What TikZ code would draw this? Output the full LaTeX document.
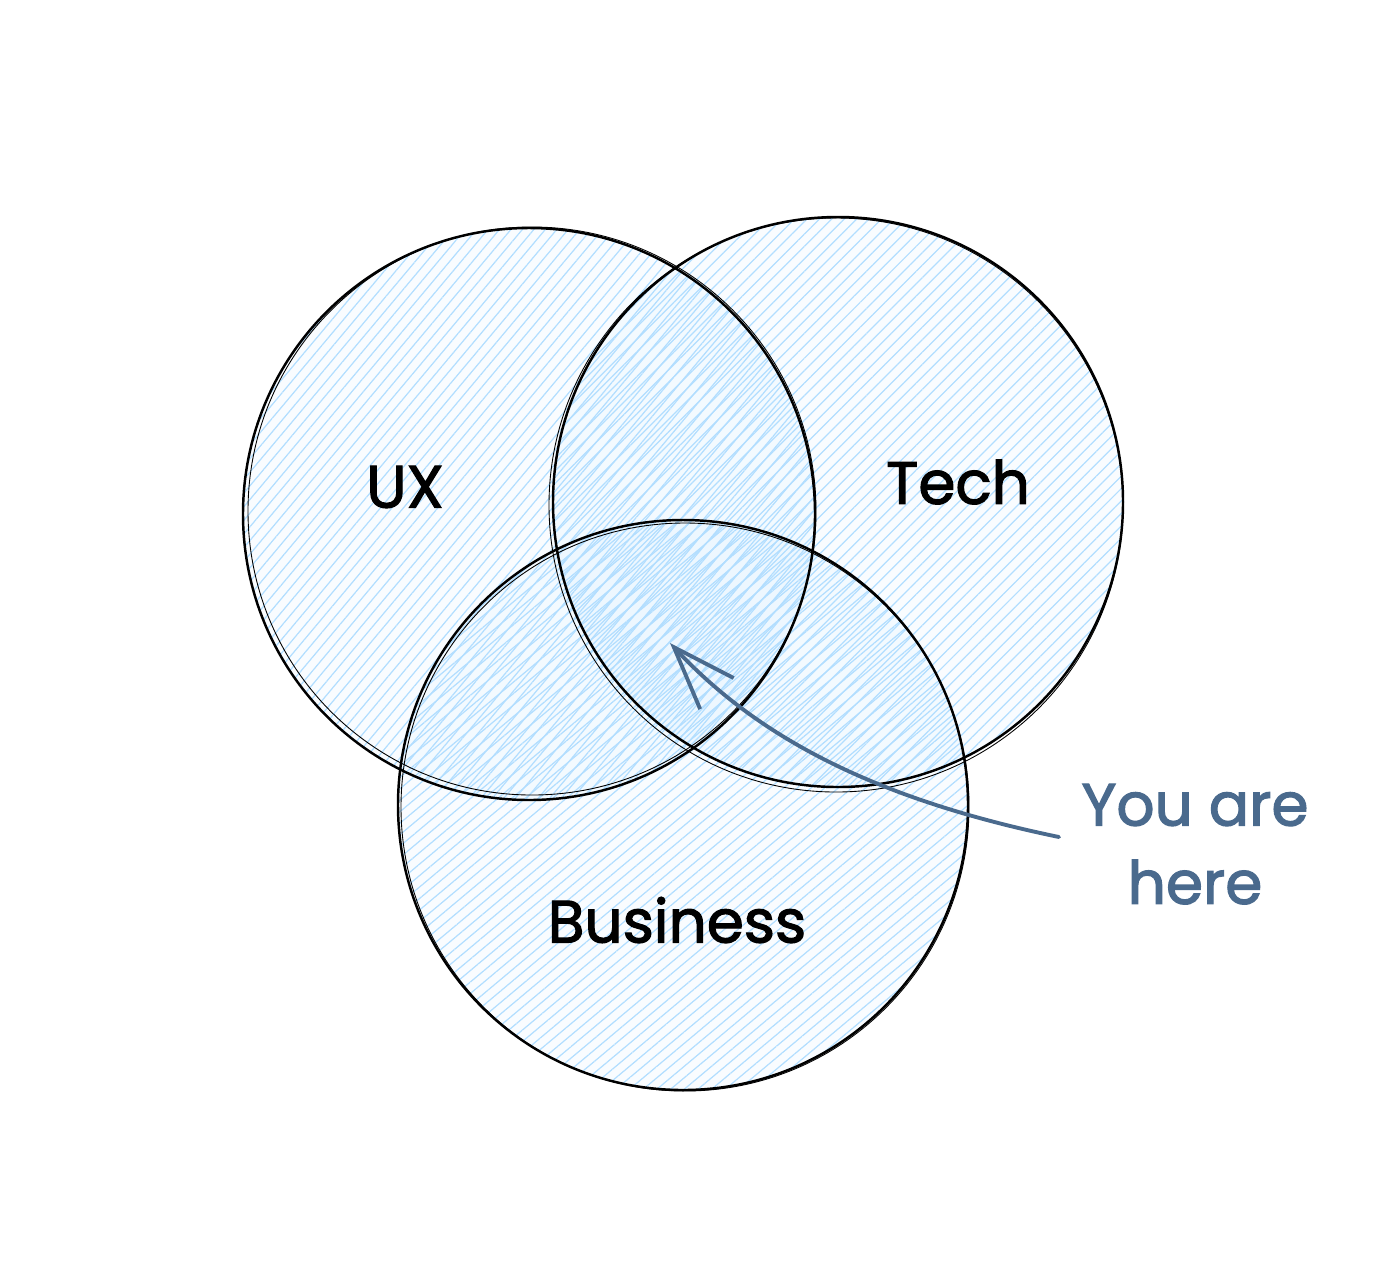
\documentclass[tikz,border=0pt]{standalone}
\usepackage{fontspec}
\newfontfamily\sketchfont{Poppins}[FakeBold=2]
\usetikzlibrary{patterns.meta, arrows.meta}
\definecolor{hatchblue}{HTML}{A5D8FF}
\definecolor{slate}{HTML}{4A6A8D}

\begin{document}
\begin{tikzpicture}[x=0.02cm, y=-0.02cm,
  tint/.style={fill=hatchblue, fill opacity=0.07},
  hatch/.style={pattern={Lines[angle=#1, distance=5pt, line width=0.7pt]}, pattern color=hatchblue!85!white},
  outline/.style={draw=black, line width=1.4pt},
  retrace/.style={draw=black, line width=0.5pt},
  label/.style={font=\sketchfont\fontsize{34}{40}\selectfont}]

  \useasboundingbox (0,0) rectangle (1398,1262);

  % Circle centres
  \coordinate (ux c) at (529,514);
  \coordinate (tech c) at (838,502);
  \coordinate (biz c) at (683,805);

  % Hatched fills
  \fill[tint] (ux c) circle[radius=286];
  \fill[tint] (tech c) circle[radius=285];
  \fill[tint] (biz c) circle[radius=285];
  \fill[hatch=50] (ux c) circle[radius=286];
  \fill[hatch=45] (tech c) circle[radius=285];
  \fill[hatch=40] (biz c) circle[radius=285];

  % Sketchy outlines, each drawn twice
  \draw[outline] (ux c) circle[radius=286];
  \draw[retrace] ([shift={(3,-3)}]ux c) circle[radius=284];
  \draw[outline] (tech c) circle[radius=285];
  \draw[retrace] ([shift={(-2,3)}]tech c) circle[radius=287];
  \draw[outline] (biz c) circle[radius=285];
  \draw[retrace] ([shift={(2,2)}]biz c) circle[radius=284];

  % Set labels
  \node[label] (ux) at (405,487) {UX};
  \node[label] (tech) at (958,482) {Tech};
  \node[label] (business) at (677,920) {Business};

  % Pointer to the middle
  \node[label, text=slate] (you) at (1195,805) {You are};
  \node[label, text=slate] (here) at (1195,882) {here};
  \coordinate (tail) at (1059,837);
  \coordinate (target) at (670,643);
  \draw[slate, line width=2.2pt, line cap=round, -{Straight Barb[length=36pt, width=26pt]}]
    (tail) .. controls (880,800) and (760,740) .. (target);

\end{tikzpicture}
\end{document}
